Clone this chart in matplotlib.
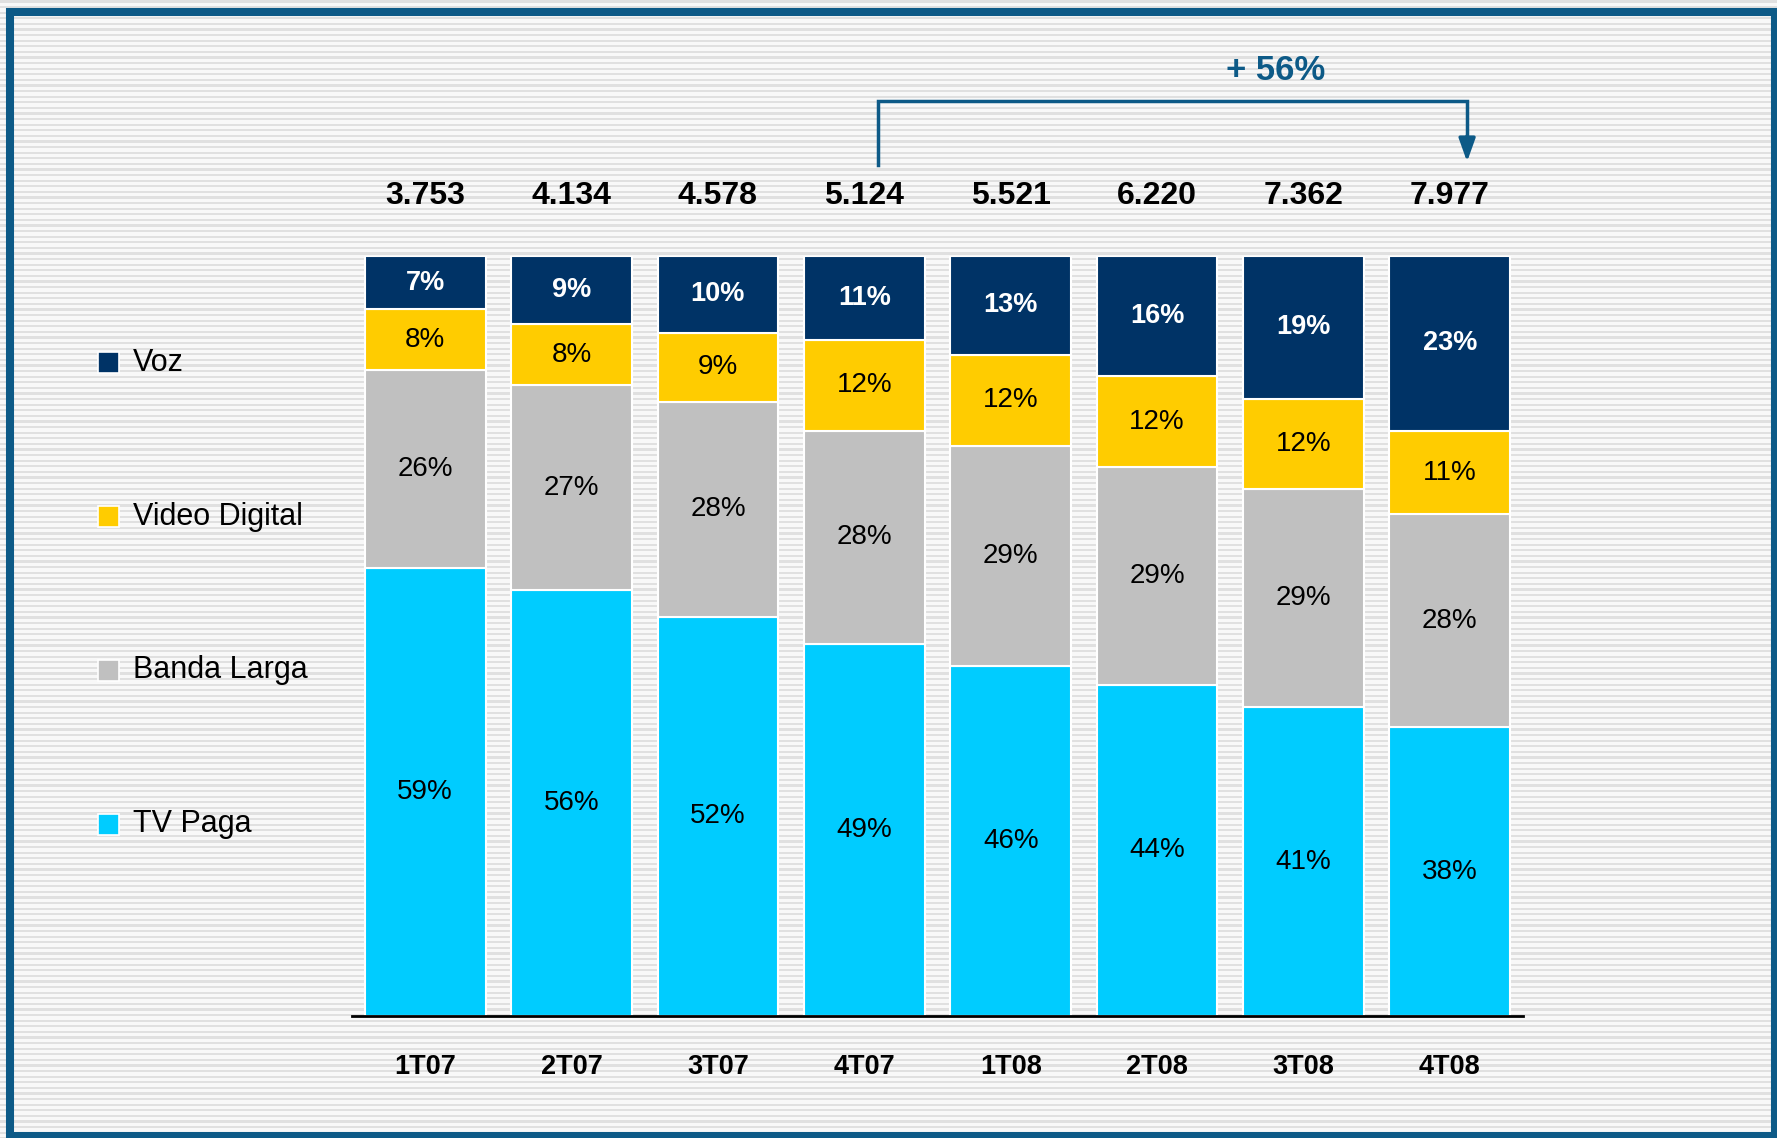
import numpy as np
import matplotlib.pyplot as plt
from matplotlib.patches import Rectangle

# Data
quarters = ['1T07', '2T07', '3T07', '4T07', '1T08', '2T08', '3T08', '4T08']
totals = [3753, 4134, 4578, 5124, 5521, 6220, 7362, 7977]
series = ['TV Paga', 'Banda Larga', 'Video Digital', 'Voz']
tv_paga = [59, 56, 52, 49, 46, 44, 41, 38]
banda_larga = [26, 27, 28, 28, 29, 29, 29, 28]
video_digital = [8, 8, 9, 12, 12, 12, 12, 11]
voz = [7, 9, 10, 11, 13, 16, 19, 23]
growth_label = '+ 56%'

colors = ['#00ccff', '#c0c0c0', '#ffcc00', '#003366']
blue = '#0d5a87'
FONT = ['Liberation Sans', 'DejaVu Sans']

W, H = 1777, 1138
fig = plt.figure(figsize=(W / 100, H / 100), dpi=100)

# striped background
rows = np.arange(H)
stripe = (rows % 5.6) < 2.2
img = np.ones((H, W, 3))
img[stripe] = 0.88
img[~stripe] = 0.975
fig.figimage(img, 0, 0, zorder=-10)

ax = fig.add_axes([352 / W, 1 - 1016 / H, (1523 - 352) / W, (1016 - 256) / H])
ax.set_facecolor('none')
for s in ['top', 'right', 'left']:
    ax.spines[s].set_visible(False)
ax.spines['bottom'].set_linewidth(2)
ax.set_xlim(-0.5, 7.5)
ax.set_ylim(0, 100)
ax.set_yticks([])

x = np.arange(len(quarters))
shares = np.array([tv_paga, banda_larga, video_digital, voz], dtype=float)
labels = shares.copy()
shares = shares / shares.sum(axis=0) * 100

bottom = np.zeros(len(quarters))
for k, (name, c) in enumerate(zip(series, colors)):
    ax.bar(x, shares[k], width=0.825, bottom=bottom, color=c,
           edgecolor='white', linewidth=1.5)
    for i in range(len(quarters)):
        yc = bottom[i] + shares[k][i] / 2
        if name == 'Voz':
            ax.text(x[i], yc, f"{labels[k][i]:.0f}%", ha='center', va='center',
                    color='white', fontsize=19.5, fontweight='bold', family=FONT)
        else:
            ax.text(x[i], yc, f"{labels[k][i]:.0f}%", ha='center', va='center',
                    color='black', fontsize=20, family=FONT)
    bottom += shares[k]

# totals above the bars
for i, t in enumerate(totals):
    ax.text(x[i], 107.9, f"{t:,}".replace(',', '.'), ha='center', va='center',
            fontsize=23, fontweight='bold', family=FONT, clip_on=False)

ax.set_xticks(x)
ax.set_xticklabels(quarters, fontsize=19.5, fontweight='bold', family=FONT)
ax.tick_params(axis='x', length=0, pad=27)

# growth bracket 4T07 -> 4T08
xl, xr = 3.094, 7.118
ax.plot([xl, xl, xr, xr], [112.0, 120.4, 120.4, 115.5], color=blue, lw=2.5,
        clip_on=False, solid_joinstyle='miter')
ax.annotate('', xy=(xr, 112.4), xytext=(xr, 115.8),
            arrowprops=dict(arrowstyle='-|>,head_length=1.4,head_width=0.5',
                            color=blue, lw=2.5, shrinkA=0, shrinkB=0),
            annotation_clip=False)
ax.text(5.81, 124.4, growth_label, ha='center', va='center', color=blue,
        fontsize=25, fontweight='bold', family=FONT, clip_on=False)

# legend on the left, Voz on top
for j, k in enumerate(range(len(series) - 1, -1, -1)):
    yc = 363 + j * 153.7
    fig.patches.append(Rectangle((98 / W, 1 - (yc + 10.5) / H), 21 / W, 21 / H,
                                 transform=fig.transFigure, facecolor=colors[k],
                                 edgecolor='white', lw=1.2))
    fig.text(133 / W, 1 - yc / H, series[k], va='center', ha='left',
             fontsize=22, family=FONT)

# blue frame
fig.patches.append(Rectangle((10 / W, 2 / H), 1765 / W, 1124 / H,
                             transform=fig.transFigure, facecolor='none',
                             edgecolor=blue, lw=5.8))

fig.savefig('out.png', dpi=100)
